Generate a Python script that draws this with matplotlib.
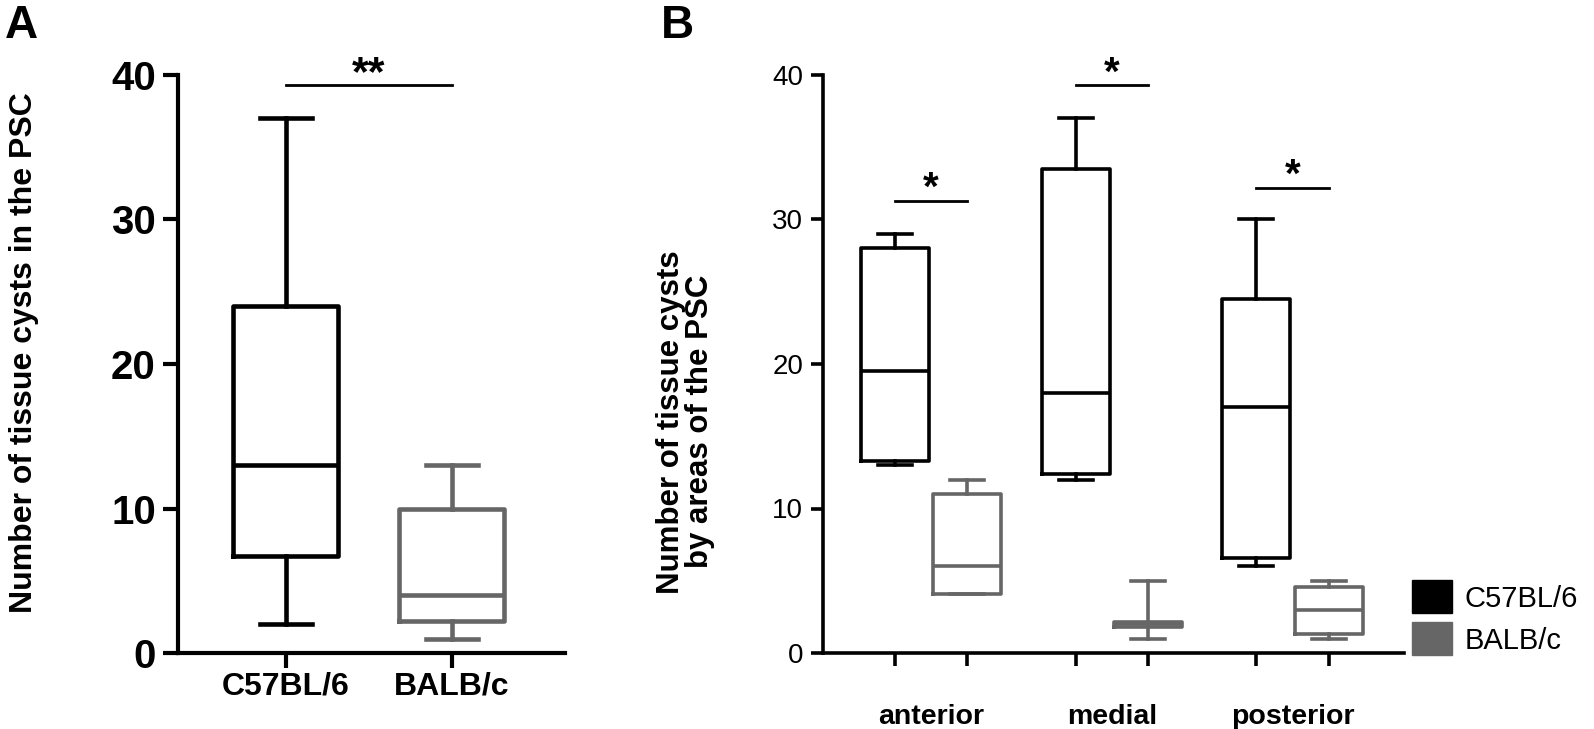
import matplotlib
matplotlib.use('Agg')
import matplotlib.pyplot as plt
from matplotlib.patches import Patch

plt.rcParams['font.family'] = ['Liberation Sans', 'DejaVu Sans']

# values: [min, q1, median, q3, max]
strains = ['C57BL/6', 'BALB/c']
c57_total = [2, 6.7, 13, 24, 37]
balb_total = [1, 2.2, 4, 10, 13]

areas = ['anterior', 'medial', 'posterior']
c57_area = [[13, 13.3, 19.5, 28, 29],
            [12, 12.4, 18, 33.5, 37],
            [6, 6.6, 17, 24.5, 30]]
balb_area = [[4.1, 4.1, 6, 11, 12],
             [1, 1.8, 2, 2.15, 5],
             [1, 1.3, 3, 4.6, 5]]

sig_a = ('**', 39.3)
sig_b = [('*', 31.3), ('*', 39.3), ('*', 32.2)]

black = '#000000'
grey = '#666666'


def stats(v, label=''):
    return dict(whislo=v[0], q1=v[1], med=v[2], q3=v[3], whishi=v[4], label=label)


def draw_box(ax, v, pos, width, color, lw):
    ax.bxp([stats(v)], positions=[pos], widths=width, showfliers=False,
           boxprops=dict(color=color, linewidth=lw),
           whiskerprops=dict(color=color, linewidth=lw),
           capprops=dict(color=color, linewidth=lw),
           medianprops=dict(color=color, linewidth=lw),
           capwidths=width / 2, manage_ticks=False)


fig = plt.figure(figsize=(15.94, 7.29), dpi=100)

# ---------------- panel A
axA = fig.add_axes([178 / 1594, 76 / 729, 387 / 1594, 578 / 729])
lwA = 3.3
draw_box(axA, c57_total, 0, 0.63, black, lwA)
draw_box(axA, balb_total, 1, 0.63, grey, lwA)
axA.set_xlim(-0.649, 1.683)
axA.set_ylim(0, 40)
axA.set_yticks([0, 10, 20, 30, 40])
axA.set_xticks([0, 1])
axA.set_xticklabels(strains, fontsize=23, fontweight='bold')
for t in axA.get_yticklabels():
    t.set_fontsize(29)
    t.set_fontweight('bold')
axA.tick_params(axis='both', width=3, length=11)
axA.tick_params(axis='y', pad=5)
axA.tick_params(axis='x', pad=2)
for s in ['top', 'right']:
    axA.spines[s].set_visible(False)
for s in ['left', 'bottom']:
    axA.spines[s].set_linewidth(3)
axA.set_ylabel('Number of tissue cysts in the PSC', fontsize=23, fontweight='bold')
axA.yaxis.set_label_coords(-0.36, 0.52)
axA.plot([0, 1], [sig_a[1], sig_a[1]], color=black, lw=2, clip_on=False)
axA.text(0.5, sig_a[1] - 0.6, sig_a[0], ha='center', va='bottom', fontsize=31,
         fontweight='bold')

# ---------------- panel B
axB = fig.add_axes([822.5 / 1594, 76 / 729, 581.5 / 1594, 578 / 729])
lwB = 2.6
off = 0.2
for i in range(len(areas)):
    draw_box(axB, c57_area[i], i - off, 0.376, black, lwB)
    draw_box(axB, balb_area[i], i + off, 0.376, grey, lwB)
    star, y = sig_b[i]
    axB.plot([i - off, i + off], [y, y], color=black, lw=2, clip_on=False)
    axB.text(i, y - 0.5, star, ha='center', va='bottom', fontsize=29, fontweight='bold')
axB.set_xlim(-0.60, 2.617)
axB.set_ylim(0, 40)
axB.set_yticks([0, 10, 20, 30, 40])
pos = []
for i in range(len(areas)):
    pos += [i - off, i + off]
axB.set_xticks(pos)
axB.set_xticklabels([''] * len(pos))
axB.set_xticks(range(len(areas)), minor=True)
axB.set_xticklabels(areas, minor=True, fontsize=20.5, fontweight='bold')
axB.tick_params(axis='x', which='minor', length=0, pad=37)
axB.tick_params(axis='both', which='major', width=2.6, length=9, labelsize=20)
axB.tick_params(axis='y', pad=5)
for s in ['top', 'right']:
    axB.spines[s].set_visible(False)
for s in ['left', 'bottom']:
    axB.spines[s].set_linewidth(2.6)
axB.set_ylabel('Number of tissue cysts\nby areas of the PSC', fontsize=22.5,
               fontweight='bold', linespacing=0.95)
axB.yaxis.set_label_coords(-0.185, 0.40)

handles = [Patch(facecolor=black, edgecolor=black), Patch(facecolor=grey, edgecolor=grey)]
fig.legend(handles, strains, loc='upper left', bbox_to_anchor=(1392 / 1594, 1 - 560 / 729),
           frameon=False, fontsize=21, handlelength=1.35, handleheight=1.35,
           handletextpad=0.45, labelspacing=0.32, borderpad=0.2)

fig.text(0.003, 0.995, 'A', fontsize=33, fontweight='bold', va='top', ha='left')
fig.text(661 / 1594, 0.995, 'B', fontsize=33, fontweight='bold', va='top', ha='left')

fig.savefig('out.png', dpi=100)
